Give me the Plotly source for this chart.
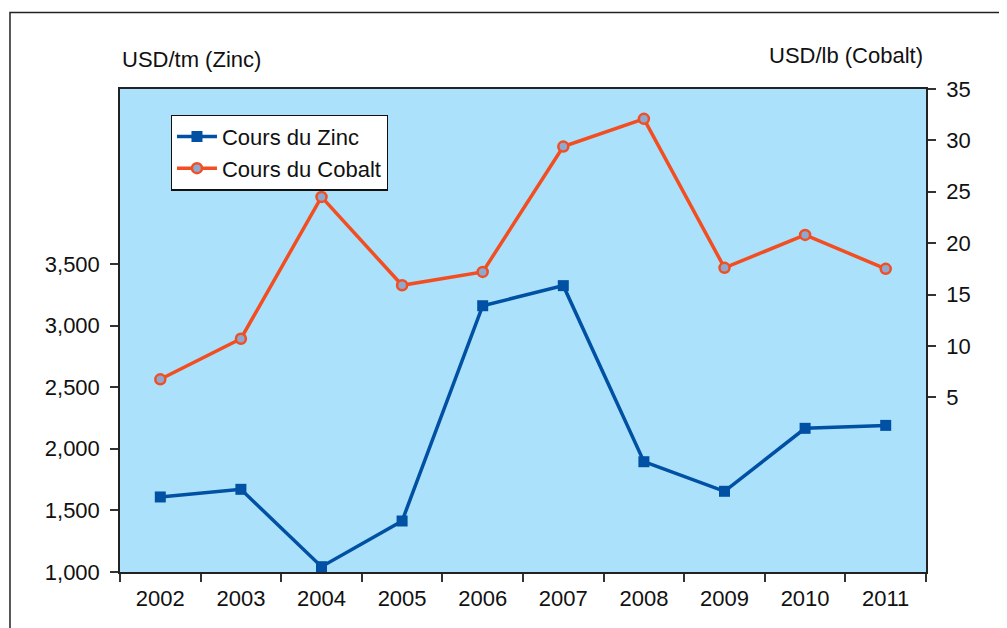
import plotly.graph_objects as go

years = ["2002", "2003", "2004", "2005", "2006", "2007", "2008", "2009", "2010", "2011"]
zinc = [1609, 1671, 1043, 1414, 3161, 3324, 1895, 1655, 2166, 2190]
cobalt = [6.75, 10.7, 24.5, 15.9, 17.2, 29.4, 32.1, 17.6, 20.8, 17.5]
zinc_ticks = [1000, 1500, 2000, 2500, 3000, 3500]
cobalt_ticks = [5, 10, 15, 20, 25, 30, 35]

FONT = "Liberation Sans, Arial, sans-serif"
FS = 22

fig = go.Figure()
fig.add_trace(go.Scatter(
    x=years, y=zinc, name="Cours du Zinc", mode="lines+markers",
    line=dict(color="#0050A4", width=3.5),
    marker=dict(symbol="square", size=11, color="#0050A4"),
    yaxis="y"))
fig.add_trace(go.Scatter(
    x=years, y=cobalt, name="Cours du Cobalt", mode="lines+markers",
    line=dict(color="#F24E22", width=3.5),
    marker=dict(symbol="circle", size=10, color="#8EA9CF",
                line=dict(color="#F24E22", width=2.5)),
    yaxis="y2"))

axis_common = dict(showline=True, linecolor="#222", linewidth=1.5,
                   ticks="outside", ticklen=8, tickcolor="#333", tickwidth=1.5,
                   showgrid=False, zeroline=False,
                   tickfont=dict(family=FONT, size=FS, color="#111"))

fig.update_layout(
    width=999, height=620,
    margin=dict(l=112, r=81, t=81, b=56),
    paper_bgcolor="white", plot_bgcolor="#ABE1FA",
    font=dict(family=FONT, size=FS, color="#111"),
    xaxis=dict(type="category", range=[-0.5, 9.5], tickson="boundaries",
               mirror=True, ticklabelstandoff=6, **axis_common),
    yaxis=dict(range=[1000, 4920], tickvals=zinc_ticks, tickformat=",",
               ticklabelstandoff=6, **axis_common),
    yaxis2=dict(range=[-12, 35], tickvals=cobalt_ticks, overlaying="y",
                side="right", ticklabelstandoff=6, **axis_common),
    legend=dict(x=0.063, y=0.947, xanchor="left", yanchor="top",
                bgcolor="white", bordercolor="#111", borderwidth=1.2,
                font=dict(family=FONT, size=FS, color="#111"),
                tracegroupgap=0, itemwidth=40),
    showlegend=True,
    annotations=[
        dict(text="USD/tm (Zinc)", xref="paper", yref="paper", x=0.0, y=1.062,
             xanchor="left", yanchor="middle", showarrow=False,
             font=dict(family=FONT, size=FS, color="#111")),
        dict(text="USD/lb (Cobalt)", xref="paper", yref="paper", x=0.999, y=1.070,
             xanchor="right", yanchor="middle", showarrow=False,
             font=dict(family=FONT, size=FS, color="#111")),
    ],
    shapes=[
        dict(type="rect", xref="paper", yref="paper", x0=-0.1365, x1=1.3,
             y0=-0.3, y1=1.1584, line=dict(color="#222", width=1.5),
             fillcolor="rgba(0,0,0,0)", layer="below"),
    ],
)

fig.write_html("out.html")
